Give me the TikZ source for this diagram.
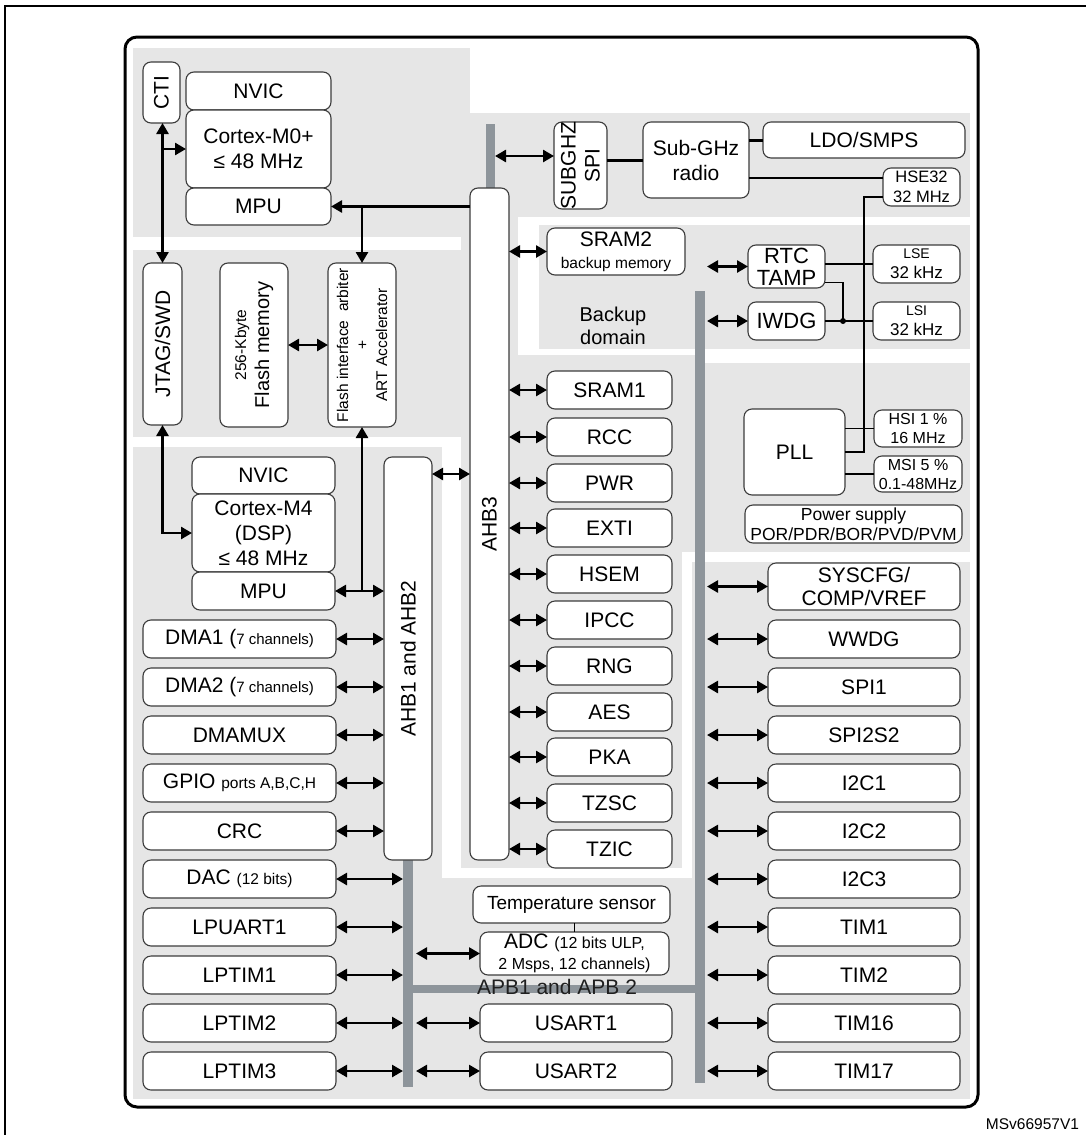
\documentclass[tikz,border=0pt]{standalone}
\usepackage{fontspec}
\setmainfont{Liberation Sans}
\usetikzlibrary{arrows.meta,calc}
\newcommand\fsz[2]{\fontsize{#1}{#2}\selectfont}
\definecolor{regiongray}{HTML}{E6E6E6}
\definecolor{busgray}{HTML}{8E959B}
\definecolor{boxline}{HTML}{3C3C3C}
\newcommand\bbox[7][]{\node[box,minimum width={(#5-#3)*1pt},minimum height={(#6-#4)*1pt},#1] (#2) at ({(#3+#5)/2},{(#4+#6)/2}) {#7};}
\newcommand\busbar[5]{\node[bus,minimum width={(#4-#2)*1pt},minimum height={(#5-#3)*1pt}] (#1) at ({(#2+#4)/2},{(#3+#5)/2}) {};}
\begin{document}
\begin{tikzpicture}[x=1pt,y=-1pt,
  box/.style={draw=boxline,line width=1.1pt,fill=white,rounded corners=8pt,inner sep=0pt,outer sep=0pt,align=center,font=\fsz{21}{25}},
  bus/.style={rectangle,fill=busgray,draw=none,inner sep=0pt,outer sep=0pt},
  dbl/.style={line width=2.6pt,{Triangle[length=11pt,width=12pt]}-{Triangle[length=11pt,width=12pt]}},
  sgl/.style={line width=2.6pt,-{Triangle[length=11pt,width=12pt]}},
  wire/.style={line width=1.1pt},
  radiowire/.style={line width=3pt},
  lbl/.style={inner sep=0pt,outer sep=0pt,align=center,font=\fsz{21}{25}},
  smalltxt/.style={font=\fsz{15.5}{19}}
]
\useasboundingbox (0,0) rectangle (1086,1135);
% page frame
\draw[line width=2pt] (5,1140) -- (5,6) -- (1090,6);
% grey regions
\fill[regiongray] (133,48) rectangle (470,237);
\fill[regiongray] (461,113) rectangle (518,355);
\fill[regiongray] (513,113) rectangle (970,217);
\fill[regiongray] (539,225) rectangle (970,349);
\fill[regiongray] (461,355) rectangle (695,552);
\fill[regiongray] (705,363) rectangle (970,552);
\fill[regiongray] (461,552) rectangle (682,868);
\fill[regiongray] (133,250) rectangle (461,437);
\fill[regiongray] (133,447) rectangle (442,1099);
\fill[regiongray] (133,878) rectangle (970,1099);
\fill[regiongray] (692,562) rectangle (970,1099);
% buses
\busbar{AHBstub}{486}{124}{495}{188}
\busbar{APBL}{403}{860}{413}{1087}
\busbar{APBR}{695}{291}{705}{1083}
\busbar{APBH}{403}{985}{705}{993}
% main frame
\draw[line width=3pt,rounded corners=12pt] (125,37) rectangle (978,1107);
% Cortex-M0+ block
\bbox{CTI}{143}{62}{180}{123}{}
\node[lbl,rotate=90] (CTIt) at (CTI) {CTI};
\bbox{NVICa}{186}{72}{331}{110}{NVIC}
\bbox{MZero}{186}{110}{331}{188}{Cortex-M0+\\≤ 48 MHz}
\bbox{MPUa}{186}{188}{331}{225}{MPU}
% flash block
\bbox{JTAG}{143}{263}{182}{425}{}
\node[lbl,rotate=90] (JTAGt) at (JTAG) {JTAG/SWD};
\bbox{FLASH}{220}{263}{288}{427}{}
\node[lbl,rotate=90,font=\fsz{20}{23}] (FLASHt) at (FLASH) {{\fsz{15.5}{19}256-Kbyte}\\Flash memory};
\bbox{FIA}{328}{263}{396}{427}{}
\node[lbl,rotate=90,font=\fsz{15.5}{19.5}] (FIAt) at (FIA) {Flash interface\ \ arbiter\\+\\ART Accelerator};
% Cortex-M4 block
\bbox{NVICb}{192}{457}{335}{494}{NVIC}
\bbox{MFour}{192}{494}{335}{572}{Cortex-M4\\(DSP)\\≤ 48 MHz}
\bbox{MPUb}{192}{572}{335}{610}{MPU}
\bbox{AHBOT}{384}{457}{432}{860}{}
\node[lbl,rotate=90] (AHBOTt) at (AHBOT) {AHB1 and AHB2};
\bbox{AHBT}{470}{188}{509}{860}{}
\node[lbl,rotate=90] (AHBTt) at (AHBT) {AHB3};
% left column
\bbox{DMAA}{143}{620}{336}{658}{DMA1 ({\fsz{15}{18}7 channels)}}
\bbox{DMAB}{143}{668}{336}{706}{DMA2 ({\fsz{15}{18}7 channels)}}
\bbox{DMAMUX}{143}{716}{336}{754}{DMAMUX}
\bbox{GPIO}{143}{764}{336}{802}{GPIO {\fsz{15.5}{18}ports A,B,C,H}}
\bbox{CRC}{143}{812}{336}{850}{CRC}
\bbox{DAC}{143}{860}{336}{898}{DAC {\fsz{15.5}{18}(12 bits)}}
\bbox{LPUART}{143}{908}{336}{946}{LPUART1}
\bbox{LPTA}{143}{956}{336}{994}{LPTIM1}
\bbox{LPTB}{143}{1004}{336}{1042}{LPTIM2}
\bbox{LPTC}{143}{1052}{336}{1090}{LPTIM3}
% AHB3 column
\bbox{SRAMA}{547}{371}{672}{409}{SRAM1}
\bbox{RCC}{547}{418}{672}{456}{RCC}
\bbox{PWR}{547}{464}{672}{502}{PWR}
\bbox{EXTI}{547}{509}{672}{547}{EXTI}
\bbox{HSEM}{547}{555}{672}{593}{HSEM}
\bbox{IPCC}{547}{601}{672}{639}{IPCC}
\bbox{RNG}{547}{647}{672}{685}{RNG}
\bbox{AES}{547}{693}{672}{731}{AES}
\bbox{PKA}{547}{738}{672}{776}{PKA}
\bbox{TZSC}{547}{784}{672}{822}{TZSC}
\bbox{TZIC}{547}{830}{672}{868}{TZIC}
% radio block
\bbox{SUBSPI}{554}{122}{607}{209}{}
\node[lbl,rotate=90,font=\fsz{21}{24}] (SUBSPIt) at (SUBSPI) {SUBGHZ\\SPI};
\bbox{RADIO}{643}{122}{749}{198}{Sub-GHz\\radio}
\bbox{LDO}{763}{122}{965}{158}{LDO/SMPS}
\bbox[font=\fsz{16.5}{20}]{HSE}{883}{168}{960}{206}{HSE32\\32 MHz}
% backup domain
\bbox{SRAMB}{547}{228}{685}{275}{SRAM2\\[-3pt]{\fsz{15.5}{18}backup memory}}
\bbox[font=\fsz{22}{22}]{RTC}{748}{245}{825}{288}{RTC\\TAMP}
\bbox[font=\fsz{22}{25}]{IWDG}{748}{302}{825}{340}{IWDG}
\bbox[font=\fsz{17}{20}]{LSE}{873}{245}{960}{283}{{\fsz{14}{17}LSE}\\32 kHz}
\bbox[font=\fsz{17}{20}]{LSI}{873}{302}{960}{340}{{\fsz{14}{17}LSI}\\32 kHz}
\node[lbl,font=\fsz{20}{23}] (BKtxt) at (613,326) {Backup\\domain};
% clocks
\bbox{PLL}{744}{409}{845}{495}{PLL}
\bbox[font=\fsz{16}{19}]{HSI}{874}{410}{962}{447}{HSI 1 \%\\16 MHz}
\bbox[font=\fsz{16}{19}]{MSI}{874}{456}{962}{492}{MSI 5 \%\\0.1-48MHz}
\bbox[font=\fsz{17.5}{19.5}]{PSUP}{745}{505}{962}{543}{Power supply\\POR/PDR/BOR/PVD/PVM}
% right column
\bbox{SYSCFG}{768}{563}{960}{610}{SYSCFG/\\[-2pt]COMP/VREF}
\bbox{WWDG}{768}{620}{960}{658}{WWDG}
\bbox{SPIA}{768}{668}{960}{706}{SPI1}
\bbox{SPIB}{768}{716}{960}{754}{SPI2S2}
\bbox{ICA}{768}{764}{960}{802}{I2C1}
\bbox{ICB}{768}{812}{960}{850}{I2C2}
\bbox{ICC}{768}{860}{960}{898}{I2C3}
\bbox{TIMA}{768}{908}{960}{946}{TIM1}
\bbox{TIMB}{768}{956}{960}{994}{TIM2}
\bbox{TIMP}{768}{1004}{960}{1042}{TIM16}
\bbox{TIMQ}{768}{1052}{960}{1090}{TIM17}
% analog / usart
\bbox[font=\fsz{19}{22}]{TEMP}{473}{886}{670}{923}{Temperature sensor}
\bbox{ADC}{480}{932}{669}{975}{ADC {\fsz{16}{19}(12 bits ULP,}\\[-4pt]{\fsz{16}{19}2 Msps, 12 channels)}}
\bbox{USA}{480}{1004}{672}{1042}{USART1}
\bbox{USB}{480}{1052}{672}{1090}{USART2}
% connectors: cores
\draw[dbl] (JTAG.north) -- (JTAG.north |- CTI.south);
\draw[sgl] (JTAG.north |- MZero.west) -- (MZero.west);
\draw[dbl] (MFour.west) -| (JTAG.south);
\draw[sgl] (AHBT.west |- MPUa.east) -- (MPUa.east);
\draw[sgl] (FIA.north |- MPUa.east) -- (FIA.north);
\draw[dbl] (MPUb.east) -- (MPUb.east -| AHBOT.west);
\draw[sgl] (FIA.south |- MPUb.east) -- (FIA.south);
\draw[dbl] (FLASH.east) -- (FIA.west);
\draw[dbl] ([yshift=-17pt]AHBOT.north east) -- ([yshift=-17pt]AHBOT.north east -| AHBT.west);
% AHB3 peripherals
\draw[dbl] (AHBstub.east) -- (AHBstub.east -| SUBSPI.west);
\draw[dbl] (AHBT.east |- SRAMB.west) -- (SRAMB.west);
\foreach \n in {SRAMA,RCC,PWR,EXTI,HSEM,IPCC,RNG,AES,PKA,TZSC,TZIC}
  \draw[dbl] (AHBT.east |- \n.west) -- (\n.west);
% left column
\foreach \n in {DMAA,DMAB,DMAMUX,GPIO,CRC}
  \draw[dbl] (\n.east) -- (\n.east -| AHBOT.west);
\foreach \n in {DAC,LPUART,LPTA,LPTB,LPTC}
  \draw[dbl] (\n.east) -- (\n.east -| APBL.west);
\foreach \n in {ADC,USA,USB}
  \draw[dbl] ([xshift=3pt]APBL.east |- \n.west) -- (\n.west);
% right column
\foreach \n in {RTC,IWDG,SYSCFG,WWDG,SPIA,SPIB,ICA,ICB,ICC,TIMA,TIMB,TIMP,TIMQ}
  \draw[dbl] ([xshift=2pt]APBR.east |- \n.west) -- (\n.west);
% radio wires
\draw[radiowire] (SUBSPI.east |- RADIO.west) -- (RADIO.west);
\draw[radiowire] (RADIO.east |- LDO.west) -- (LDO.west);
\draw[wire] ([yshift=-18pt]RADIO.east) coordinate (rh) -- (rh -| HSE.west);
\coordinate (hv) at (864,452);
\draw[wire] ([yshift=-10pt]HSE.west) -| (hv) -- (PLL.east |- hv);
\draw[wire] (PLL.east |- HSI.west) -- (HSI.west);
\draw[wire] (PLL.east |- MSI.west) -- (MSI.west);
\draw[wire] (RTC.east |- LSE.west) -- (LSE.west);
\coordinate (dot) at (843,321);
\draw[wire] ([yshift=-16pt]RTC.east) -| (dot);
\draw[wire] (IWDG.east) -- (IWDG.east -| LSI.west);
\fill (dot) circle (3pt);
\draw[wire] (TEMP.south -| ADC.north) -- (ADC.north);
% bus label
\node[lbl,text=black!88] (APBt) at (557,987) {APB1 and APB 2};
\node[lbl,anchor=east,font=\fsz{15.5}{18}] (MSV) at (1079,1124) {MSv66957V1};
\end{tikzpicture}
\end{document}
